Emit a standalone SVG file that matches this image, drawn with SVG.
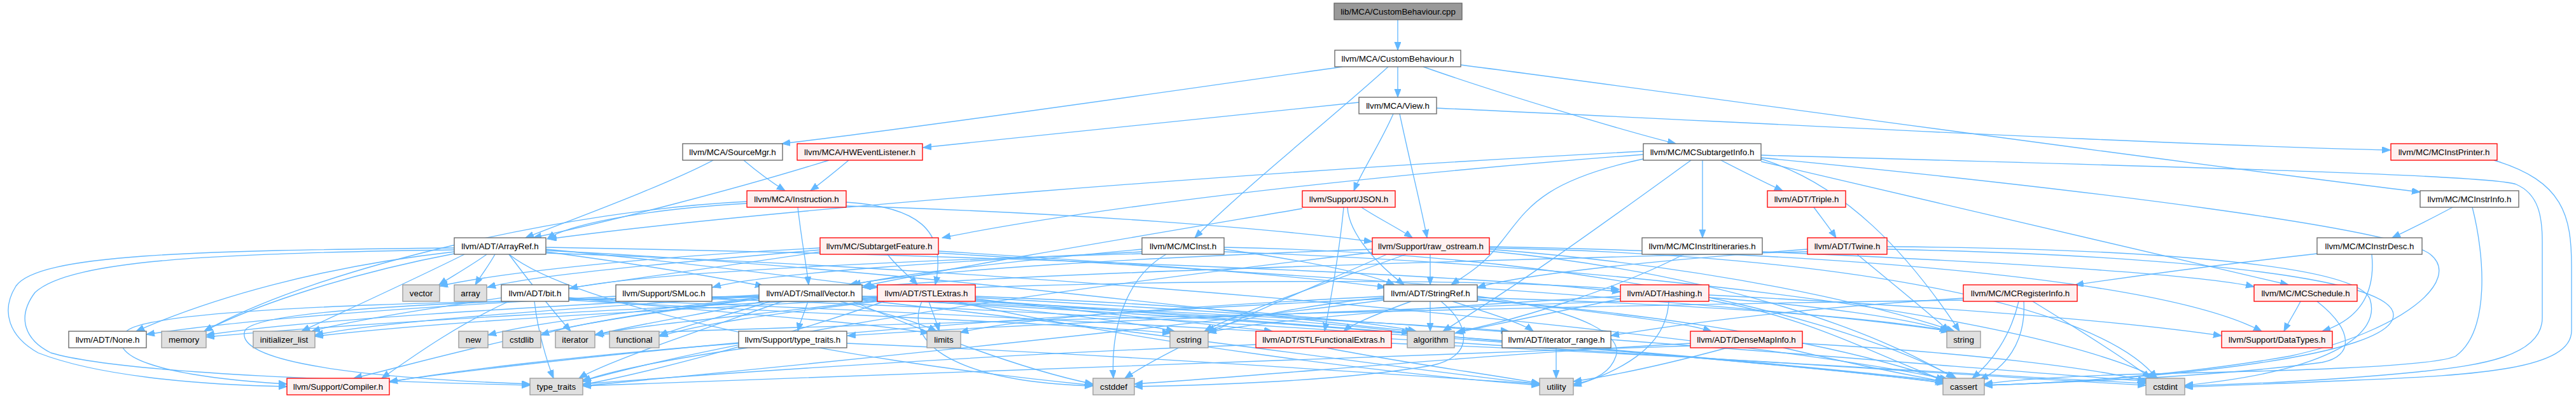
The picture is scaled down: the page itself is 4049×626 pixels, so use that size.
<svg xmlns="http://www.w3.org/2000/svg" width="4049" height="626" viewBox="0 0 4049 626">
<defs>
<style>
.node rect{stroke-width:1.33}
.root rect{fill:#999999;stroke:#666666}
.std rect{fill:#ffffff;stroke:#666666}
.trunc rect{fill:#fff0f0;stroke:#ff0000}
.sys rect{fill:#e0e0e0;stroke:#999999}
text{font-family:"Liberation Sans",Arial,Helvetica,sans-serif;font-size:13.33px;text-anchor:middle;fill:#000000}
#edges path{fill:none;stroke:#63b8ff;stroke-width:1.33;marker-end:url(#a)}
</style>
<marker id="a" markerUnits="userSpaceOnUse" markerWidth="14" markerHeight="11" refX="13" refY="5" orient="auto"><path d="M0,0 L13,5 L0,10 z" fill="#63b8ff" stroke="#63b8ff" stroke-width="1"/></marker>
</defs>
<rect width="4049" height="626" fill="#ffffff"/>
<g id="edges">
<path d="M2197,31 L2197,79"/>
<path d="M2110,105 C1900,135 1450,200 1229,226"/>
<path d="M2182,105 C2100,180 1950,300 1878,374"/>
<path d="M2197,105 L2197,153"/>
<path d="M2237,105 C2350,145 2550,205 2634,226"/>
<path d="M2296,102 C2700,155 3450,260 3804,302"/>
<path d="M2136,161 C1900,185 1600,218 1451,232"/>
<path d="M2190,179 C2170,225 2140,270 2128,300"/>
<path d="M2200,179 C2215,250 2235,330 2243,374"/>
<path d="M2258,170 C2700,190 3400,228 3757,236"/>
<path d="M1121,252 C1050,290 900,345 826,374"/>
<path d="M1169,252 C1190,270 1215,288 1234,300"/>
<path d="M1303,252 C1150,300 950,350 838,374"/>
<path d="M1334,252 C1315,268 1290,288 1274,300"/>
<path d="M2583,238 C2000,268 1200,330 862,376"/>
<path d="M2583,243 C2100,280 1700,330 1481,374"/>
<path d="M2583,250 C2420,285 2400,330 2360,380 C2330,420 2300,435 2281,448"/>
<path d="M2658,252 C2550,330 2400,440 2268,521"/>
<path d="M2676,252 L2676,374"/>
<path d="M2705,252 C2740,270 2780,290 2802,300"/>
<path d="M2768,250 C2900,290 3000,400 3080,521"/>
<path d="M2768,254 C3000,310 3400,400 3597,448"/>
<path d="M2768,244 C3400,262 3920,275 3955,290 C3990,305 3996,340 3996,380 L3996,500 C3996,560 3900,575 3800,585 C3650,600 3500,605 3434,607"/>
<path d="M2768,248 C3300,300 3770,360 3820,400 C3870,440 3780,520 3600,560 C3400,595 3200,604 3119,606"/>
<path d="M3920,252 C4030,285 4042,340 4042,420 L4042,520 C4042,580 3900,590 3700,598 C3600,603 3500,606 3434,609"/>
<path d="M3855,326 C3820,345 3785,362 3760,374"/>
<path d="M3886,326 C3905,400 3915,520 3860,560 C3820,580 3500,585 3380,588 C3250,591 3160,598 3119,604"/>
<path d="M3728,400 C3735,470 3700,505 3650,521"/>
<path d="M3642,399 C3500,415 3350,435 3262,448"/>
<path d="M2647,400 C2550,450 2400,500 2290,522"/>
<path d="M2770,396 C3100,410 3450,430 3543,451"/>
<path d="M2851,326 C2865,345 2878,362 2886,374"/>
<path d="M2919,400 C2980,450 3040,500 3064,521"/>
<path d="M2966,388 C3300,390 3700,410 3725,470 C3745,530 3650,585 3434,606"/>
<path d="M2966,392 C3350,400 3760,430 3762,495 C3764,560 3400,597 3119,606"/>
<path d="M2841,392 C2600,410 2400,430 2322,452"/>
<path d="M2841,396 C2300,410 1600,430 1356,452"/>
<path d="M2140,326 C2160,340 2200,360 2220,374"/>
<path d="M2118,326 C2120,370 2170,420 2207,448"/>
<path d="M2112,326 C2105,400 2090,480 2082,521"/>
<path d="M2047,328 C1800,370 1500,420 1357,450"/>
<path d="M2248,400 L2248,448"/>
<path d="M2157,392 C1800,405 1450,425 1335,448"/>
<path d="M2210,400 C2100,440 1950,490 1893,521"/>
<path d="M2180,400 C2000,480 1850,540 1768,595"/>
<path d="M2341,392 C2700,420 2950,480 3072,521"/>
<path d="M2341,390 C2900,400 3300,480 3390,595"/>
<path d="M2341,395 C2700,430 2950,520 3072,595"/>
<path d="M2341,388 C2900,398 3400,440 3555,521"/>
<path d="M2157,397 C1700,450 1200,520 913,600"/>
<path d="M1795,392 C1600,410 1420,430 1340,448"/>
<path d="M1795,396 C1500,410 1200,430 1120,452"/>
<path d="M1795,399 C1400,410 1000,430 895,454"/>
<path d="M1833,400 C1780,430 1745,500 1750,595"/>
<path d="M1924,392 C2050,410 2150,430 2192,448"/>
<path d="M1924,389 C2500,400 2900,500 3075,595"/>
<path d="M1924,396 C2600,420 3200,500 3392,595"/>
<path d="M1395,400 C1410,420 1430,435 1442,448"/>
<path d="M1289,393 C1100,410 850,430 766,452"/>
<path d="M1289,390 C1000,405 780,430 691,450"/>
<path d="M1475,395 C1800,415 2050,435 2178,452"/>
<path d="M1475,398 C2000,430 2800,480 3064,521"/>
<path d="M1289,396 C1000,440 600,490 490,521"/>
<path d="M765,400 C745,415 710,435 690,448"/>
<path d="M778,400 C770,415 755,435 747,448"/>
<path d="M858,396 C1000,415 1120,435 1200,450"/>
<path d="M858,392 C1050,410 1250,435 1380,452"/>
<path d="M858,389 C1500,400 2300,430 2547,459"/>
<path d="M714,396 C500,420 330,470 214,521"/>
<path d="M714,399 C550,430 400,480 321,521"/>
<path d="M730,400 C650,440 540,490 474,521"/>
<path d="M714,390 C300,394 60,400 25,450 C0,490 15,530 60,555 C150,590 300,605 451,608"/>
<path d="M714,393 C350,398 110,408 55,460 C25,500 40,535 80,555 C200,590 600,600 833,606"/>
<path d="M858,394 C1400,420 2000,500 2222,521"/>
<path d="M858,398 C1800,430 2800,540 3062,597"/>
<path d="M800,400 C900,480 1300,565 1718,606"/>
<path d="M800,400 C830,440 870,490 897,521"/>
<path d="M1270,474 C1265,490 1258,505 1254,521"/>
<path d="M1193,470 C900,500 700,560 556,595"/>
<path d="M1193,468 C1000,490 850,505 767,527"/>
<path d="M1193,470 C1000,495 900,510 850,527"/>
<path d="M1200,474 C1100,495 1000,510 935,527"/>
<path d="M1210,474 C1150,495 1080,510 1036,528"/>
<path d="M1320,474 C1380,490 1440,505 1472,521"/>
<path d="M1355,466 C1550,480 1750,500 1846,521"/>
<path d="M1193,464 C900,480 500,500 324,527"/>
<path d="M1193,466 C900,485 600,505 495,527"/>
<path d="M1355,468 C1800,490 2100,505 2216,524"/>
<path d="M1230,474 C1100,520 950,570 910,595"/>
<path d="M1340,474 C1450,520 1600,580 1718,604"/>
<path d="M1355,472 C1800,520 2200,580 2420,604"/>
<path d="M1355,470 C2000,500 2800,570 3056,600"/>
<path d="M1193,466 C700,470 400,490 385,520 C370,560 500,592 833,604"/>
<path d="M1460,474 C1465,490 1472,505 1476,521"/>
<path d="M1449,474 C1420,540 1500,600 1718,607"/>
<path d="M1533,470 C1700,490 1900,510 2000,521"/>
<path d="M1533,452 C1900,440 2350,438 2545,455"/>
<path d="M1533,474 C1900,495 2250,510 2372,521"/>
<path d="M1500,474 C1800,540 2200,590 2420,606"/>
<path d="M1533,472 C2200,520 2900,580 3058,603"/>
<path d="M1533,468 C2300,510 3100,580 3380,600"/>
<path d="M1379,470 C1000,490 700,505 495,529"/>
<path d="M1379,468 C1000,485 600,505 324,530"/>
<path d="M1379,474 C1200,495 1100,510 1037,529"/>
<path d="M1379,472 C1200,495 1000,510 936,527"/>
<path d="M1390,474 C1200,540 1000,590 916,605"/>
<path d="M1533,466 C1900,480 2150,505 2226,521"/>
<path d="M1379,466 C800,470 250,480 200,520 C160,560 250,592 451,604"/>
<path d="M2248,474 L2248,521"/>
<path d="M2283,474 C2350,495 2395,510 2410,521"/>
<path d="M2265,474 C2310,510 2320,560 2250,575 C2100,600 1900,606 1783,608"/>
<path d="M2322,466 C2500,490 2550,530 2540,560 C2530,590 2500,600 2473,604"/>
<path d="M2218,474 C2160,495 2125,510 2112,521"/>
<path d="M2322,470 C2500,490 2640,505 2690,521"/>
<path d="M2322,468 C2700,480 2950,500 3066,521"/>
<path d="M2175,468 C2050,480 1950,500 1896,521"/>
<path d="M2175,470 C1500,500 900,560 612,600"/>
<path d="M2175,466 C1900,480 1600,500 1509,523"/>
<path d="M2175,472 C1800,520 1200,580 916,607"/>
<path d="M2322,472 C2700,500 2950,560 3060,600"/>
<path d="M2623,474 C2620,540 2560,580 2473,607"/>
<path d="M2547,470 C2450,490 2350,510 2287,524"/>
<path d="M2547,466 C2300,480 2000,500 1899,523"/>
<path d="M2686,468 C2850,480 3000,500 3062,521"/>
<path d="M2686,472 C2850,500 2950,560 3056,598"/>
<path d="M2686,464 C3000,480 3300,500 3492,528"/>
<path d="M2547,474 C2100,490 1600,510 1332,528"/>
<path d="M3173,474 C3160,530 3130,570 3100,595"/>
<path d="M3181,474 C3185,540 3150,580 3112,597"/>
<path d="M3195,474 C3270,520 3350,570 3380,595"/>
<path d="M3086,469 C2900,480 2700,500 2532,528"/>
<path d="M3086,472 C2500,480 1500,505 935,526"/>
<path d="M3616,474 C3608,490 3598,505 3590,521"/>
<path d="M3642,474 C3700,520 3700,560 3650,570 C3500,590 3300,600 3119,606"/>
<path d="M800,474 C720,510 650,560 600,595"/>
<path d="M894,470 C1800,500 2900,580 3373,606"/>
<path d="M894,468 C1100,490 1350,505 1460,524"/>
<path d="M840,474 C845,520 860,570 870,595"/>
<path d="M894,472 C1300,495 1700,510 1840,524"/>
<path d="M968,466 C700,480 400,500 230,526"/>
<path d="M1119,470 C2000,500 2800,570 3055,602"/>
<path d="M1161,540 C900,560 700,585 612,601"/>
<path d="M1175,547 C1050,565 950,585 916,600"/>
<path d="M1331,540 C1800,560 2200,590 2420,604"/>
<path d="M2085,547 C2200,570 2350,590 2420,603"/>
<path d="M1974,542 C1500,560 1100,590 916,604"/>
<path d="M2187,540 C2600,555 3100,590 3373,603"/>
<path d="M2446,547 L2446,595"/>
<path d="M2715,547 C2630,570 2540,590 2473,600"/>
<path d="M2803,547 C2900,570 3000,590 3055,600"/>
<path d="M2833,540 C3100,555 3300,580 3373,600"/>
<path d="M2657,540 C2300,560 2000,590 1783,604"/>
<path d="M2657,544 C2000,565 1300,595 916,607"/>
<path d="M1174,320 C1000,330 890,355 860,376"/>
<path d="M1174,317 C900,330 500,420 321,521"/>
<path d="M1254,326 C1260,380 1268,420 1271,448"/>
<path d="M1330,318 C1440,325 1490,360 1470,448"/>
<path d="M1330,324 C1700,335 2000,360 2157,380"/>
</g>
<g id="n_cpp" class="node root"><rect x="2097" y="5" width="201" height="26"/><text x="2197.5" y="22.7">lib/MCA/CustomBehaviour.cpp</text></g>
<g id="n_cbh" class="node std"><rect x="2098" y="79" width="198" height="26"/><text x="2197" y="96.7">llvm/MCA/CustomBehaviour.h</text></g>
<g id="n_view" class="node std"><rect x="2136" y="153" width="122" height="26"/><text x="2197" y="170.7">llvm/MCA/View.h</text></g>
<g id="n_srcmgr" class="node std"><rect x="1073" y="226" width="157" height="26"/><text x="1151.5" y="243.7">llvm/MCA/SourceMgr.h</text></g>
<g id="n_hwel" class="node trunc"><rect x="1253" y="226" width="197" height="26"/><text x="1351.5" y="243.7">llvm/MCA/HWEventListener.h</text></g>
<g id="n_msti" class="node std"><rect x="2583" y="226" width="185" height="26"/><text x="2675.5" y="243.7">llvm/MC/MCSubtargetInfo.h</text></g>
<g id="n_mip" class="node trunc"><rect x="3758" y="226" width="167" height="26"/><text x="3841.5" y="243.7">llvm/MC/MCInstPrinter.h</text></g>
<g id="n_instr" class="node trunc"><rect x="1174" y="300" width="156" height="26"/><text x="1252" y="317.7">llvm/MCA/Instruction.h</text></g>
<g id="n_json" class="node trunc"><rect x="2047" y="300" width="146" height="26"/><text x="2120" y="317.7">llvm/Support/JSON.h</text></g>
<g id="n_triple" class="node trunc"><rect x="2778" y="300" width="123" height="26"/><text x="2839.5" y="317.7">llvm/ADT/Triple.h</text></g>
<g id="n_mii" class="node std"><rect x="3804" y="300" width="155" height="26"/><text x="3881.5" y="317.7">llvm/MC/MCInstrInfo.h</text></g>
<g id="n_arrayref" class="node std"><rect x="714" y="374" width="144" height="26"/><text x="786" y="391.7">llvm/ADT/ArrayRef.h</text></g>
<g id="n_stf" class="node trunc"><rect x="1289" y="374" width="186" height="26"/><text x="1382" y="391.7">llvm/MC/SubtargetFeature.h</text></g>
<g id="n_mcinst" class="node std"><rect x="1795" y="374" width="129" height="26"/><text x="1859.5" y="391.7">llvm/MC/MCInst.h</text></g>
<g id="n_rawos" class="node trunc"><rect x="2157" y="374" width="184" height="26"/><text x="2249" y="391.7">llvm/Support/raw_ostream.h</text></g>
<g id="n_itin" class="node std"><rect x="2581" y="374" width="189" height="26"/><text x="2675.5" y="391.7">llvm/MC/MCInstrItineraries.h</text></g>
<g id="n_twine" class="node trunc"><rect x="2841" y="374" width="125" height="26"/><text x="2903.5" y="391.7">llvm/ADT/Twine.h</text></g>
<g id="n_mid" class="node std"><rect x="3642" y="374" width="165" height="26"/><text x="3724.5" y="391.7">llvm/MC/MCInstrDesc.h</text></g>
<g id="n_vector" class="node sys"><rect x="633" y="448" width="58" height="26"/><text x="662" y="465.7">vector</text></g>
<g id="n_array" class="node sys"><rect x="714" y="448" width="51" height="26"/><text x="739.5" y="465.7">array</text></g>
<g id="n_bit" class="node std"><rect x="788" y="448" width="106" height="26"/><text x="841" y="465.7">llvm/ADT/bit.h</text></g>
<g id="n_smloc" class="node std"><rect x="968" y="448" width="151" height="26"/><text x="1043.5" y="465.7">llvm/Support/SMLoc.h</text></g>
<g id="n_smallvec" class="node std"><rect x="1193" y="448" width="162" height="26"/><text x="1274" y="465.7">llvm/ADT/SmallVector.h</text></g>
<g id="n_stlext" class="node trunc"><rect x="1379" y="448" width="154" height="26"/><text x="1456" y="465.7">llvm/ADT/STLExtras.h</text></g>
<g id="n_stringref" class="node std"><rect x="2175" y="448" width="147" height="26"/><text x="2248.5" y="465.7">llvm/ADT/StringRef.h</text></g>
<g id="n_hashing" class="node trunc"><rect x="2547" y="448" width="139" height="26"/><text x="2616.5" y="465.7">llvm/ADT/Hashing.h</text></g>
<g id="n_mri" class="node trunc"><rect x="3086" y="448" width="179" height="26"/><text x="3175.5" y="465.7">llvm/MC/MCRegisterInfo.h</text></g>
<g id="n_msched" class="node trunc"><rect x="3543" y="448" width="162" height="26"/><text x="3624" y="465.7">llvm/MC/MCSchedule.h</text></g>
<g id="n_none" class="node std"><rect x="108" y="521" width="122" height="26"/><text x="169" y="538.7">llvm/ADT/None.h</text></g>
<g id="n_memory" class="node sys"><rect x="254" y="521" width="70" height="26"/><text x="289" y="538.7">memory</text></g>
<g id="n_initlist" class="node sys"><rect x="398" y="521" width="97" height="26"/><text x="446.5" y="538.7">initializer_list</text></g>
<g id="n_new" class="node sys"><rect x="721" y="521" width="46" height="26"/><text x="744" y="538.7">new</text></g>
<g id="n_cstdlib" class="node sys"><rect x="790" y="521" width="60" height="26"/><text x="820" y="538.7">cstdlib</text></g>
<g id="n_iterator" class="node sys"><rect x="873" y="521" width="62" height="26"/><text x="904" y="538.7">iterator</text></g>
<g id="n_functional" class="node sys"><rect x="958" y="521" width="78" height="26"/><text x="997" y="538.7">functional</text></g>
<g id="n_typetraitsh" class="node std"><rect x="1161" y="521" width="170" height="26"/><text x="1246" y="538.7">llvm/Support/type_traits.h</text></g>
<g id="n_limits" class="node sys"><rect x="1457" y="521" width="53" height="26"/><text x="1483.5" y="538.7">limits</text></g>
<g id="n_cstring" class="node sys"><rect x="1839" y="521" width="60" height="26"/><text x="1869" y="538.7">cstring</text></g>
<g id="n_stlfe" class="node trunc"><rect x="1974" y="521" width="213" height="26"/><text x="2080.5" y="538.7">llvm/ADT/STLFunctionalExtras.h</text></g>
<g id="n_algorithm" class="node sys"><rect x="2212" y="521" width="74" height="26"/><text x="2249" y="538.7">algorithm</text></g>
<g id="n_itrange" class="node std"><rect x="2361" y="521" width="171" height="26"/><text x="2446.5" y="538.7">llvm/ADT/iterator_range.h</text></g>
<g id="n_dmi" class="node trunc"><rect x="2657" y="521" width="176" height="26"/><text x="2745" y="538.7">llvm/ADT/DenseMapInfo.h</text></g>
<g id="n_string" class="node sys"><rect x="3060" y="521" width="53" height="26"/><text x="3086.5" y="538.7">string</text></g>
<g id="n_datatypes" class="node trunc"><rect x="3492" y="521" width="174" height="26"/><text x="3579" y="538.7">llvm/Support/DataTypes.h</text></g>
<g id="n_compiler" class="node trunc"><rect x="451" y="595" width="161" height="26"/><text x="531.5" y="612.7">llvm/Support/Compiler.h</text></g>
<g id="n_typetraits" class="node sys"><rect x="833" y="595" width="83" height="26"/><text x="874.5" y="612.7">type_traits</text></g>
<g id="n_cstddef" class="node sys"><rect x="1718" y="595" width="65" height="26"/><text x="1750.5" y="612.7">cstddef</text></g>
<g id="n_utility" class="node sys"><rect x="2420" y="595" width="53" height="26"/><text x="2446.5" y="612.7">utility</text></g>
<g id="n_cassert" class="node sys"><rect x="3054" y="595" width="65" height="26"/><text x="3086.5" y="612.7">cassert</text></g>
<g id="n_cstdint" class="node sys"><rect x="3373" y="595" width="61" height="26"/><text x="3403.5" y="612.7">cstdint</text></g>
</svg>
